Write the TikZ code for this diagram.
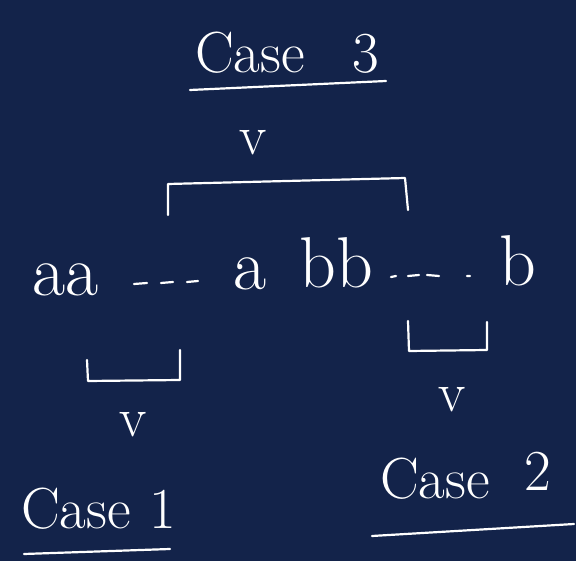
\documentclass[tikz,border=0pt]{standalone}
\usepackage{xcolor}
\definecolor{bgnavy}{HTML}{13234A}
\tikzset{
  ink/.style={draw=white, line width=2.2pt, line cap=round, line join=round},
  hand/.style={text=white, inner sep=0pt, anchor=base},
  big/.style={hand, font=\fontsize{72}{80}\selectfont},
  lbl/.style={hand, font=\fontsize{58}{64}\selectfont},
  vee/.style={hand, font=\fontsize{56}{60}\selectfont},
}
\begin{document}
\begin{tikzpicture}[x=1pt, y=-1pt]
\fill[bgnavy] (0,0) rectangle (576,561);
\useasboundingbox (0,0) rectangle (576,561);

% Case 3
\node[lbl] (c3) at (250,73) {Case};
\node[lbl] (c3n) at (366,73) {3};
\coordinate (u3a) at (190,90);
\coordinate (u3b) at (386,81);
\draw[ink] (u3a) -- (u3b);
\node[vee] (v3) at (253,155) {v};

% top bracket
\coordinate (t1) at (168,215);
\coordinate (t2) at (168,184);
\coordinate (t3) at (405,178);
\coordinate (t4) at (408,210);
\draw[ink] (t1) -- (t2) -- (t3) -- (t4);

% main string
\node[big] (aa) at (66,296) {aa};
\node[big] (a1) at (250,290) {a};
\node[big] (bb) at (336,288) {bb};
\node[big] (b1) at (518,286) {b};
\coordinate (d1a) at (134,284); \coordinate (d1b) at (147,283);
\coordinate (d2a) at (161,283); \coordinate (d2b) at (173,282);
\coordinate (d3a) at (187,282); \coordinate (d3b) at (198,281);
\draw[ink] (d1a) -- (d1b) (d2a) -- (d2b) (d3a) -- (d3b);
\coordinate (e1a) at (391,277); \coordinate (e1b) at (396,276);
\coordinate (e2a) at (408,276); \coordinate (e2b) at (419,275);
\coordinate (e3a) at (427,275); \coordinate (e3b) at (439,276);
\coordinate (e4a) at (467,276); \coordinate (e4b) at (470,276);
\draw[ink] (e1a) -- (e1b) (e2a) -- (e2b) (e3a) -- (e3b) (e4a) -- (e4b);

% left bracket
\coordinate (l1) at (87,360);
\coordinate (l2) at (88,381);
\coordinate (l3) at (180,380);
\coordinate (l4) at (180,350);
\draw[ink] (l1) -- (l2) -- (l3) -- (l4);
\node[vee] (v1) at (133,436) {v};

% right bracket
\coordinate (r1) at (408,321);
\coordinate (r2) at (409,351);
\coordinate (r3) at (487,350);
\coordinate (r4) at (487,322);
\draw[ink] (r1) -- (r2) -- (r3) -- (r4);
\node[vee] (v2) at (452,411) {v};

% Case 1
\node[lbl] (c1) at (76,528) {Case};
\node[lbl] (c1n) at (163,528) {1};
\coordinate (u1a) at (24,554);
\coordinate (u1b) at (170,549);
\draw[ink] (u1a) -- (u1b);

% Case 2
\node[lbl] (c2) at (435,498) {Case};
\node[lbl] (c2n) at (538,490) {2};
\coordinate (u2a) at (372,536);
\coordinate (u2b) at (574,524);
\draw[ink] (u2a) -- (u2b);
\end{tikzpicture}
\end{document}
